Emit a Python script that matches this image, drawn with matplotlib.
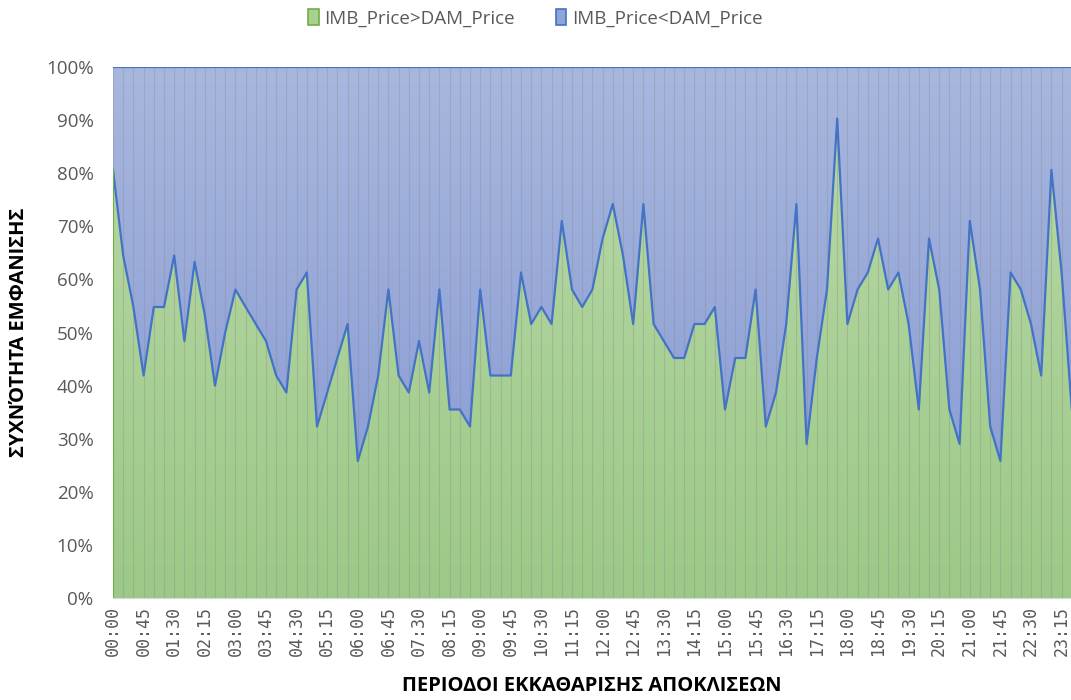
import numpy as np
import matplotlib.pyplot as plt
from matplotlib.patches import Patch
from matplotlib.colors import LinearSegmentedColormap

# share of days (%) where IMB_Price > DAM_Price, per 15-min period (last one is cropped off)
green_pct = [80.6, 64.5, 54.8, 41.9, 54.8, 54.8, 64.5, 48.4, 63.3, 53.3,
             40.0, 50.0, 58.1, 54.8, 51.6, 48.4, 41.9, 38.7, 58.1, 61.3,
             32.3, 38.7, 45.2, 51.6, 25.8, 32.3, 41.9, 58.1, 41.9, 38.7,
             48.4, 38.7, 58.1, 35.5, 35.5, 32.3, 58.1, 41.9, 41.9, 41.9,
             61.3, 51.6, 54.8, 51.6, 71.0, 58.1, 54.8, 58.1, 67.7, 74.2,
             64.5, 51.6, 74.2, 51.6, 48.4, 45.2, 45.2, 51.6, 51.6, 54.8,
             35.5, 45.2, 45.2, 58.1, 32.3, 38.7, 51.6, 74.2, 29.0, 45.2,
             58.1, 90.3, 51.6, 58.1, 61.3, 67.7, 58.1, 61.3, 51.6, 35.5,
             67.7, 58.1, 35.5, 29.0, 71.0, 58.1, 32.3, 25.8, 61.3, 58.1,
             51.6, 41.9, 80.6, 61.3, 35.5]
blue_pct = [100 - v for v in green_pct]
periods = [f"{h:02d}:{m:02d}" for h in range(24) for m in (0, 15, 30, 45)]

labels = ["IMB_Price>DAM_Price", "IMB_Price<DAM_Price"]
grey = "#595959"

plt.rcParams['font.family'] = ['Open Sans', 'DejaVu Sans']

x = np.arange(len(green_pct))
g = np.array(green_pct) / 100
b = np.array(blue_pct) / 100

fig = plt.figure(figsize=(10.71, 7), dpi=100)
ax = fig.add_axes([113 / 1071, 102 / 700, 958 / 1071, 531 / 700])

xmax = 958 / 10.2

def gradient_fill(poly, c_top, c_bot):
    cmap = LinearSegmentedColormap.from_list("g", [c_bot, c_top])
    grad = np.linspace(0, 1, 256).reshape(-1, 1)
    im = ax.imshow(grad, cmap=cmap, aspect="auto", origin="lower",
                   extent=[0, xmax, 0, 1], zorder=1)
    im.set_clip_path(poly.get_paths()[0], ax.transData)
    poly.set_visible(False)

pg = ax.fill_between(x, 0, g, lw=0, zorder=1)
pb = ax.fill_between(x, g, g + b, lw=0, zorder=1)
gradient_fill(pg, "#b9d9a8", "#9cc987")
gradient_fill(pb, "#a8b7de", "#8397d3")

# vertical gridlines at every period
for xi in x:
    ax.axvline(xi, color="#8c8c8c", lw=0.8, alpha=0.35, zorder=2)

ax.plot(x, g, color="#4472c4", lw=1.6, zorder=4)
ax.plot(x, g + b, color="#4472c4", lw=1.6, zorder=4)
ax.plot([0, 0], [0, g[0]], color="#70ad47", lw=1.5, zorder=4)

ax.set_xlim(0, xmax)
ax.set_ylim(0, 1.0)

for s in ["top", "right", "left"]:
    ax.spines[s].set_visible(False)
ax.spines["bottom"].set_color("#d9d9d9")
ax.spines["bottom"].set_zorder(5)

ax.set_yticks(np.arange(0, 1.01, 0.1))
ax.set_yticklabels([f"{int(round(v * 100))}%" for v in np.arange(0, 1.01, 0.1)])
ax.set_xticks(x[::3])
ax.set_xticklabels(periods[::3][:len(x[::3])], rotation=90)
ax.tick_params(axis="y", length=0, labelsize=13.5, labelcolor=grey, pad=14)
ax.tick_params(axis="x", length=0, labelsize=12, labelcolor=grey, pad=6)
for t in ax.get_xticklabels():
    t.set_family("DejaVu Sans Mono")

ax.set_xlabel("ΠΕΡΙΟΔΟΙ ΕΚΚΑΘΑΡΙΣΗΣ ΑΠΟΚΛΙΣΕΩΝ", fontsize=14.5, fontweight="bold",
              color="black", labelpad=14)
ax.set_ylabel("ΣΥΧΝΌΤΗΤΑ ΕΜΦΑΝΙΣΗΣ", fontsize=14.5, fontweight="bold",
              color="black", labelpad=12)

handles = [Patch(facecolor="#a9d18e", edgecolor="#70ad47", lw=1.2),
           Patch(facecolor="#8fa5d8", edgecolor="#4472c4", lw=1.2)]
fig.legend(handles, labels, loc="center", bbox_to_anchor=(0.5, 1 - 18 / 700),
           ncol=2, frameon=False, fontsize=13.5, labelcolor=grey,
           handlelength=0.55, handleheight=1.0, handletextpad=0.3, columnspacing=2.2)

fig.savefig("out.png", dpi=100)
